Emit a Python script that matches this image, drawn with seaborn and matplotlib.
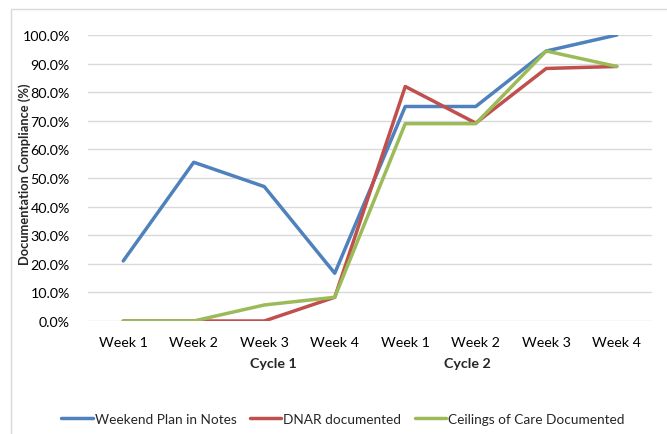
import numpy as np
import pandas as pd
import matplotlib
matplotlib.use("Agg")
import matplotlib.pyplot as plt
import matplotlib.transforms as mtransforms
from matplotlib.patches import Rectangle
from matplotlib.ticker import FuncFormatter
import seaborn as sns

weeks = ["Week 1", "Week 2", "Week 3", "Week 4", "Week 1", "Week 2", "Week 3", "Week 4"]
cycles = ["Cycle 1", "Cycle 2"]
cycle_label_pos = [2.13, 4.88]

weekend_plan = [21.0, 55.5, 47.0, 16.7, 75.0, 75.0, 94.4, 100.0]
dnar = [0.0, 0.0, 0.0, 8.3, 82.0, 69.2, 88.3, 89.0]
ceilings = [0.0, 0.0, 5.6, 8.3, 69.0, 69.0, 94.4, 89.0]

series_names = ["Weekend Plan in Notes", "DNAR documented", "Ceilings of Care Documented"]
colors = ["#4F81BD", "#C0504D", "#9BBB59"]

rows = []
for name, vals in zip(series_names, [weekend_plan, dnar, ceilings]):
    for i, v in enumerate(vals):
        rows.append({"idx": i, "value": v, "series": name})
df = pd.DataFrame(rows)

sns.set_style("white")
plt.rcParams["font.family"] = ["Lato", "DejaVu Sans"]

W, H = 667, 435
fig = plt.figure(figsize=(W / 100, H / 100), dpi=100)
ax = fig.add_axes([88 / W, 1 - 322 / H, 564 / W, 286 / H])

sns.lineplot(data=df, x="idx", y="value", hue="series", hue_order=series_names,
             palette=colors, linewidth=2.5, ax=ax, legend=False)

ax.set_xlim(-0.5, 7.5)
ax.set_ylim(0, 100)
ax.set_yticks(np.arange(0, 101, 10))
ax.yaxis.set_major_formatter(FuncFormatter(lambda v, p: f"{v:.1f}%"))
ax.set_xticks(range(len(weeks)))
ax.set_xticklabels(weeks)
ax.tick_params(axis="both", length=0, labelsize=10.3, colors="#000000")
ax.tick_params(axis="x", pad=11)
ax.tick_params(axis="y", pad=13)
ax.grid(axis="y", color="#D9D9D9", linewidth=1)
ax.set_axisbelow(True)
for s in ax.spines.values():
    s.set_visible(False)
ax.set_xlabel("")
ax.set_ylabel("")

fig.text(25 / W, 1 - 174 / H, "Documentation Compliance (%)", rotation=90,
         ha="center", va="center", fontsize=9.3, fontweight="bold")

trans = mtransforms.blended_transform_factory(ax.transData, ax.transAxes)
for name, pos in zip(cycles, cycle_label_pos):
    ax.text(pos, -42 / 286, name, transform=trans, ha="center", va="center",
            fontsize=10.3, fontweight="bold")

handles = [plt.Line2D([], [], color=c, linewidth=2.5) for c in colors]
fig.legend(handles, series_names, loc="center", bbox_to_anchor=(343 / W, 1 - 420 / H),
           ncol=3, frameon=False, fontsize=9.8, handlelength=2.3, handletextpad=0.15,
           columnspacing=1.0)

fig.patches.append(Rectangle((11 / W, -0.1), 1.2, 1 - 10 / H + 0.1, transform=fig.transFigure,
                             fill=False, edgecolor="#D9D9D9", linewidth=1))

fig.savefig("out.png", dpi=100)
